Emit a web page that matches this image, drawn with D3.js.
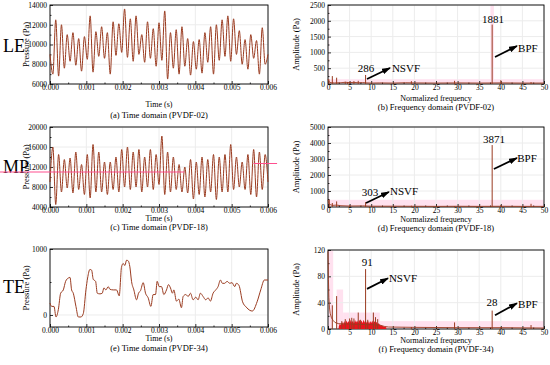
<!doctype html>
<html lang="en">
<head>
<meta charset="utf-8">
<title>PVDF pressure signals</title>
<script src="https://cdn.jsdelivr.net/npm/d3@7/dist/d3.min.js"></script>
<style>
	body { margin: 0; background: #fff; }
	text { font-family: "Liberation Serif", "Times New Roman", serif; fill: #000; }
</style>
</head>
<body>
<svg id="chart" width="550" height="365"></svg>
<script>
// ---------- data ----------
var timeTicks = [0, 0.001, 0.002, 0.003, 0.004, 0.005, 0.006];
var freqTicks = [0, 5, 10, 15, 20, 25, 30, 35, 40, 45, 50];

// (a) PVDF-02: alternating peaks / troughs, evenly spaced over 0..0.006 s
var pressA = [9000, 7000, 12500, 6800, 12000, 7600, 11000, 8300, 11200, 7900, 10600, 7300, 10800,
	8500, 12900, 7200, 11300, 8800, 11800, 8600, 11200, 7000, 12300, 8900, 12100, 9200, 13600,
	8700, 12600, 8300, 12900, 9000, 11000, 8200, 12300, 8600, 11600, 7800, 12200, 8400, 13400,
	6500, 11200, 7600, 11500, 7000, 11800, 7800, 10600, 6900, 10300, 7500, 10500, 7100, 11200,
	8200, 11800, 7000, 12000, 8400, 12500, 8800, 12900, 8300, 12600, 9000, 11400, 8000, 10500,
	7500, 11000, 8600, 10400, 7000, 11700, 8000, 9000];

// (c) PVDF-18
var pressC = [9000, 16000, 4500, 14500, 7000, 13500, 7800, 13800, 6800, 15000, 7500, 12500, 6500,
	14500, 5800, 16500, 7000, 15000, 7000, 13000, 6500, 13000, 7500, 14000, 7000, 15500, 8000,
	16000, 7500, 15000, 8000, 15500, 7000, 14000, 8000, 15500, 7500, 14500, 8500, 18200, 6500,
	15000, 7000, 14000, 7500, 12500, 7000, 12000, 6800, 13500, 5600, 13000, 6500, 14000, 6000,
	13500, 7000, 14500, 5500, 14000, 7000, 14500, 7000, 16500, 7500, 14000, 8000, 13000, 7500,
	14500, 6500, 15500, 6000, 15000, 7500, 14500, 9000];
var pinkC = [[-0.00138, 0.0037, 11000], [0.0056, 0.00625, 12700]];

// (e) PVDF-34: time in ms, pressure in Pa
var timeE = [0, 0.046, 0.11, 0.165, 0.229, 0.293, 0.366, 0.43, 0.504, 0.55, 0.595, 0.641, 0.714,
	0.779, 0.852, 0.916, 0.989, 1.035, 1.099, 1.145, 1.191, 1.255, 1.301, 1.374, 1.438, 1.484,
	1.539, 1.603, 1.649, 1.74, 1.832, 1.905, 1.969, 2.015, 2.061, 2.107, 2.153, 2.198, 2.244,
	2.308, 2.382, 2.437, 2.492, 2.565, 2.629, 2.702, 2.776, 2.84, 2.904, 2.95, 3.005, 3.069,
	3.133, 3.206, 3.261, 3.316, 3.371, 3.408, 3.481, 3.545, 3.618, 3.664, 3.737, 3.802, 3.866,
	3.939, 4.012, 4.076, 4.14, 4.214, 4.287, 4.351, 4.415, 4.489, 4.562, 4.626, 4.69, 4.745,
	4.809, 4.873, 4.947, 5.01, 5.084, 5.13, 5.2, 5.3, 5.4, 5.5, 5.57, 5.7, 5.8, 5.9, 6.0];
var pressE = [180, 130, 130, -30, 80, 330, 380, 510, 560, 570, 380, 330, 130,
	-30, -30, 20, 380, 560, 690, 680, 540, 510, 330, 320, 330, 410,
	380, 430, 390, 380, 380, 290, 730, 780, 750, 830, 820, 730, 510,
	380, 230, 330, 370, 490, 330, 260, 130, 310, 310, 510, 430, 430,
	310, 380, 460, 410, 330, 380, 210, 240, 110, 280, 310, 280, 330,
	230, 270, 230, 330, 280, 230, 260, 210, 330, 380, 430, 530, 480,
	480, 510, 480, 490, 430, 480, 450, 200, 120, 70, 60, 200, 380, 530, 530];

// (b) PVDF-02 spectrum: [normalized frequency, amplitude]
var floorB = [[0, 150], [0.3, 60], [0.7, 40], [1.5, 35], [3, 40], [4, 55], [5, 45], [6, 50], [7, 40],
	[8, 45], [9, 35], [10, 30], [12, 35], [15, 30], [18, 40], [20, 35], [25, 30], [30, 35],
	[35, 30], [40, 35], [45, 30], [50, 30]];
var spikesB = [[0.2, 150], [1, 250], [2, 200], [4, 70], [4.5, 60], [5, 70], [6, 90], [7, 100],
	[8.7, 286], [19.3, 90], [29.3, 100], [38, 1881], [40, 120], [47, 60]];
var labelsB = [['1881', 38.2, 1930, 'middle'], ['286', 8.8, 380, 'middle'],
	['NSVF', 14.8, 390, 'start'], ['BPF', 44, 1013, 'start']];
var arrowsB = [[9.03, 158, 14.35, 506], [38.66, 854, 43.75, 1203]];
var pinkB = [[0, 0.3, 0, 2500], [0, 50, 0, 150], [37.6, 38.4, 0, 2500]];

// (d) PVDF-18 spectrum
var floorD = [[0, 450], [0.2, 200], [0.5, 150], [1, 100], [2, 120], [3, 80], [5, 60], [8, 70],
	[10, 50], [15, 50], [20, 45], [25, 40], [30, 45], [35, 40], [40, 45], [45, 40], [50, 40]];
var spikesD = [[0.3, 450], [1, 250], [2, 350], [5, 100], [8.7, 303], [19.3, 80], [29.3, 60],
	[38, 3871], [40, 120], [47, 200]];
var labelsD = [['3871', 38.4, 4000, 'middle'], ['303', 9.7, 690, 'middle'],
	['NSVF', 14.35, 750, 'start'], ['BPF', 43.8, 2830, 'start']];
var arrowsD = [[8.8, 250, 14.1, 940], [38.4, 2375, 43.75, 3063]];
var pinkD = [[0, 0.3, 0, 5000], [0, 50, 0, 450]];

// (f) PVDF-34 spectrum
var floorF = [[0, 118], [0.1, 75], [0.2, 48], [0.35, 32], [0.5, 24], [0.8, 17], [1.2, 13],
	[1.6, 10], [2, 9], [2.5, 8], [12, 6], [13, 4], [14, 3], [20, 2.5], [30, 2], [40, 2], [50, 1.5]];
var bandF = [[2.5, 4], [2.75, 8], [3, 6], [3.25, 11], [3.5, 7], [3.75, 12], [4, 8], [4.25, 13],
	[4.5, 9], [4.75, 12], [5, 8], [5.25, 14], [5.5, 9], [5.75, 13], [6, 8], [6.25, 14], [6.5, 10],
	[6.75, 13], [7, 9], [7.25, 14], [7.5, 10], [7.75, 13], [8, 9], [8.25, 14], [8.5, 10],
	[8.75, 12], [9, 9], [9.25, 13], [9.5, 8], [9.75, 12], [10, 9], [10.25, 13], [10.5, 8],
	[10.75, 12], [11, 8], [11.25, 11], [11.5, 7], [11.75, 9], [12, 6], [12.5, 5], [13, 3.5], [13.5, 2.5]];
var spikesF = [[1, 36], [2, 50], [3.2, 12], [4, 15], [5, 16], [5.5, 17], [6, 16], [7, 25],
	[7.5, 14], [8.7, 91], [9.2, 14], [10.5, 25], [11, 18], [11.5, 15], [19.3, 3], [29.3, 10],
	[38, 28], [40, 3], [47, 6]];
var labelsF = [['91', 9.1, 96, 'middle'], ['NSVF', 14.1, 71, 'start'],
	['28', 37.96, 35, 'middle'], ['BPF', 44, 32, 'start']];
var arrowsF = [[9.03, 61, 13.9, 77], [38.66, 21, 43.75, 39]];
var pinkF = [[0, 1.2, 0, 120], [2, 3.5, 0, 60], [3.5, 12, 0, 25], [12, 50, 0, 12]];

// ---------- drawing ----------
var svg = d3.select('#chart');
var LINE = '#9a3b20';
var PINK = '#ffe1ef';

svg.append('defs').append('marker')
	.attr('id', 'head')
	.attr('viewBox', '0 0 9 6')
	.attr('markerUnits', 'userSpaceOnUse')
	.attr('markerWidth', 9).attr('markerHeight', 6)
	.attr('refX', 8).attr('refY', 3)
	.attr('orient', 'auto')
	.append('path').attr('d', 'M0,0 L9,3 L0,6 z').attr('fill', '#000');

function axes(g, x, y, xt, xminor, yt, yminor, xfmt, yfmt, bottom, left) {
	// light grid
	g.append('g').selectAll('line').data(xt).enter().append('line')
		.attr('x1', x).attr('x2', x).attr('y1', y.range()[0]).attr('y2', y.range()[1])
		.attr('stroke', '#ececec');
	g.append('g').selectAll('line').data(yt).enter().append('line')
		.attr('y1', y).attr('y2', y).attr('x1', x.range()[0]).attr('x2', x.range()[1])
		.attr('stroke', '#ececec');

	// ticks point inward, labels sit close to the frame
	g.append('g').attr('transform', 'translate(0,' + bottom + ')')
		.call(d3.axisBottom(x).tickValues(xt).tickFormat(xfmt).tickSize(-3).tickPadding(1));
	g.append('g').attr('transform', 'translate(0,' + bottom + ')')
		.call(d3.axisBottom(x).tickValues(xminor).tickFormat('').tickSize(-1.5));
	g.append('g').attr('transform', 'translate(' + left + ',0)')
		.call(d3.axisLeft(y).tickValues(yt).tickFormat(yfmt).tickSize(-3).tickPadding(3));
	g.append('g').attr('transform', 'translate(' + left + ',0)')
		.call(d3.axisLeft(y).tickValues(yminor).tickFormat('').tickSize(-1.5));
	g.selectAll('.domain').remove();
	g.selectAll('.tick line').attr('stroke', '#000').attr('stroke-width', 0.8);
	g.selectAll('.tick text').attr('font-size', 7.5);

	g.append('rect')
		.attr('x', x.range()[0]).attr('y', y.range()[1])
		.attr('width', x.range()[1] - x.range()[0]).attr('height', y.range()[0] - y.range()[1])
		.attr('fill', 'none').attr('stroke', '#000').attr('stroke-width', 0.9);
}

function titles(g, cx, cy, xTitle, xBase, yTitle, yX, caption, capBase) {
	g.append('text').attr('x', cx).attr('y', xBase).attr('text-anchor', 'middle')
		.attr('font-size', 8).text(xTitle);
	g.append('text').attr('x', cx).attr('y', capBase).attr('text-anchor', 'middle')
		.attr('font-size', 8.5).text(caption);
	g.append('text').attr('transform', 'translate(' + yX + ',' + cy + ') rotate(-90)')
		.attr('text-anchor', 'middle').attr('font-size', 8.5).text(yTitle);
}

var midTimes = [0.0005, 0.0015, 0.0025, 0.0035, 0.0045, 0.0055];
var midFreq = [2.5, 7.5, 12.5, 17.5, 22.5, 27.5, 32.5, 37.5, 42.5, 47.5];
var fmtT = d3.format('.3f');

// time-domain panels
function timePanel(vals, times, yDom, yt, yminor, top, bottom, name, caption, xBase, capBase, nameBase) {
	var g = svg.append('g');
	var x = d3.scaleLinear().domain([0, 0.006]).range([50, 268]);
	var y = d3.scaleLinear().domain(yDom).range([bottom, top]);
	axes(g, x, y, timeTicks, midTimes, yt, yminor, fmtT, d3.format('d'), bottom, 50);
	var line = d3.line()
		.x(function (d, i) { return x(times(d, i)); })
		.y(function (d) { return y(d); })
		.curve(d3.curveMonotoneX);
	g.append('path').datum(vals).attr('d', line)
		.attr('fill', 'none').attr('stroke', LINE).attr('stroke-width', 1);
	titles(g, 159, (top + bottom) / 2, 'Time (s)', xBase, 'Pressure (Pa)', 29, caption, capBase);
	g.append('text').attr('x', 3).attr('y', nameBase).attr('font-size', 18).text(name);
	return { g: g, x: x, y: y };
}

var evenT = function (d, i) { return i * 0.006 / 76; };

timePanel(pressA, evenT, [6000, 14000], [6000, 8000, 10000, 12000, 14000],
	[7000, 9000, 11000, 13000], 5, 84, 'LE', '(a) Time domain (PVDF-02)', 107, 117.5, 52);

var pc = timePanel(pressC, evenT, [4000, 20000], [4000, 8000, 12000, 16000, 20000],
	[6000, 10000, 14000, 18000], 127, 207, 'MP', '(c) Time domain (PVDF-18)', 220.5, 230, 173);
pc.g.selectAll('.pink').data(pinkC).enter().append('line').attr('class', 'pink')
	.attr('x1', function (d) { return pc.x(d[0]); }).attr('x2', function (d) { return pc.x(d[1]); })
	.attr('y1', function (d) { return pc.y(d[2]); }).attr('y2', function (d) { return pc.y(d[2]); })
	.attr('stroke', '#ff4f8f').attr('stroke-width', 1);

timePanel(pressE, function (d, i) { return timeE[i] / 1000; }, [-182, 1000], [0, 1000],
	[500], 249, 327, 'TE', '(e) Time domain (PVDF-34)', 341, 351, 293);

// frequency-domain panels
function freqPanel(floor, spikes, labels, arrows, pink, yMax, yt, yminor, top, bottom, caption, xBase, capBase, band) {
	var g = svg.append('g');
	var x = d3.scaleLinear().domain([0, 50]).range([328, 544]);
	var y = d3.scaleLinear().domain([0, yMax]).range([bottom, top]);

	g.append('g').selectAll('rect').data(pink).enter().append('rect')
		.attr('x', function (d) { return x(d[0]); }).attr('width', function (d) { return x(d[1]) - x(d[0]); })
		.attr('y', function (d) { return y(d[3]); }).attr('height', function (d) { return y(d[2]) - y(d[3]); })
		.attr('fill', PINK);

	axes(g, x, y, freqTicks, midFreq, yt, yminor, d3.format('d'), d3.format('d'), bottom, 328);

	if (band) {
		g.append('path').datum(band)
			.attr('d', d3.area().x(function (d) { return x(d[0]); }).y0(y(0)).y1(function (d) { return y(d[1]); }))
			.attr('fill', '#e8141c');
	}
	g.append('path').datum(floor)
		.attr('d', d3.line().x(function (d) { return x(d[0]); }).y(function (d) { return y(d[1]); }))
		.attr('fill', 'none').attr('stroke', LINE).attr('stroke-width', 0.9);
	g.append('g').selectAll('line').data(spikes).enter().append('line')
		.attr('x1', function (d) { return x(d[0]); }).attr('x2', function (d) { return x(d[0]); })
		.attr('y1', y(0)).attr('y2', function (d) { return y(d[1]); })
		.attr('stroke', LINE).attr('stroke-width', 1);

	g.append('g').selectAll('line').data(arrows).enter().append('line')
		.attr('x1', function (d) { return x(d[0]); }).attr('y1', function (d) { return y(d[1]); })
		.attr('x2', function (d) { return x(d[2]); }).attr('y2', function (d) { return y(d[3]); })
		.attr('stroke', '#000').attr('stroke-width', 1.8).attr('marker-end', 'url(#head)');
	g.append('g').selectAll('text').data(labels).enter().append('text')
		.attr('x', function (d) { return x(d[1]); }).attr('y', function (d) { return y(d[2]); })
		.attr('text-anchor', function (d) { return d[3]; })
		.attr('font-size', 11).text(function (d) { return d[0]; });

	titles(g, 436, (top + bottom) / 2, 'Normalized frequency', xBase, 'Amplitude (Pa)', 299, caption, capBase);
}

freqPanel(floorB, spikesB, labelsB, arrowsB, pinkB, 2500, [0, 500, 1000, 1500, 2000, 2500],
	[250, 750, 1250, 1750, 2250], 5, 84, '(b) Frequency domain (PVDF-02)', 100.5, 109.5, null);
freqPanel(floorD, spikesD, labelsD, arrowsD, pinkD, 5000, [0, 1000, 2000, 3000, 4000, 5000],
	[500, 1500, 2500, 3500, 4500], 127, 207, '(d) Frequency domain (PVDF-18)', 221.5, 231, null);
freqPanel(floorF, spikesF, labelsF, arrowsF, pinkF, 120, [0, 40, 80, 120],
	[20, 60, 100], 250, 329, '(f) Frequency domain (PVDF-34)', 342.5, 351.5, bandF);
</script>
</body>
</html>
